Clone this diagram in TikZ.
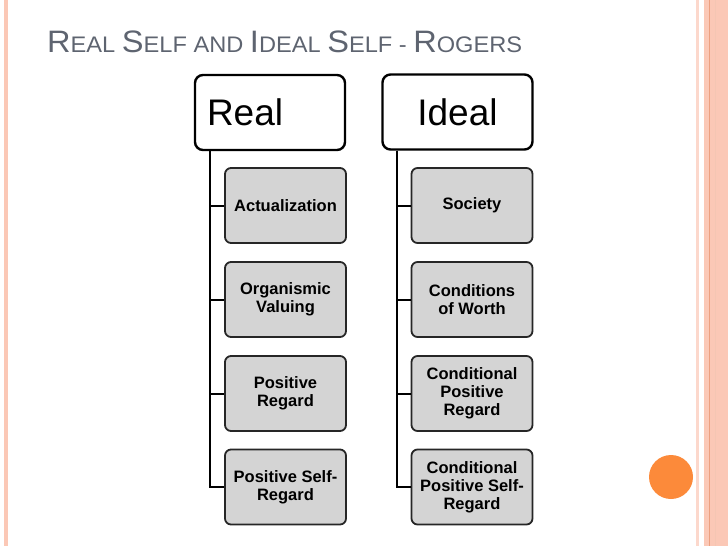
\documentclass[tikz,border=0pt]{standalone}
\usepackage{fontspec}
\setmainfont{Liberation Sans}
\usetikzlibrary{positioning}

\definecolor{titlegrey}{RGB}{94,100,112}
\definecolor{itemgrey}{RGB}{212,212,212}
\definecolor{stripe}{RGB}{251,200,182}
\definecolor{stripedark}{RGB}{236,160,128}
\definecolor{dotorange}{RGB}{252,138,58}

% title letters: big initial, smaller caps after
\newcommand\capword[2]{{\fontsize{31}{32}\selectfont #1}#2}

\begin{document}
\begin{tikzpicture}[x=1pt, y=-1pt,
  header/.style={rectangle, draw, fill=white, rounded corners=8pt, line width=2.4pt, minimum width=150pt, minimum height=75pt, inner xsep=12pt, font=\fontsize{37}{40}\selectfont},
  item/.style={rectangle, draw=black!85, fill=itemgrey, rounded corners=6pt, line width=1.8pt, minimum width=121pt, minimum height=75pt, inner sep=2pt, align=center, font=\fontsize{16.5}{18}\selectfont\bfseries},
  tree/.style={line width=2pt}
]
  \useasboundingbox (0,0) rectangle (728,546);

  % slide frame
  \fill[stripe] (4,0) rectangle (8,546);
  \fill[stripe!70] (696,0) rectangle (699,546);
  \fill[stripe] (704,0) rectangle (728,546);
  \fill[stripedark] (709,0) rectangle (710,546);
  \fill[stripedark!60] (715,0) rectangle (716,546);
  \fill[dotorange] (671,477) circle (22);

  \node[anchor=base west, text=titlegrey, inner sep=0pt, font=\fontsize{22.5}{24}\selectfont] (title) at (47,52)
    {\scalebox{1.05}[1]{\capword{R}{EAL} \capword{S}{ELF} AND \capword{I}{DEAL} \capword{S}{ELF} - \capword{R}{OGERS}}};

  \node[header, text width=126pt, align=left] (real) at (270,112.5) {Real};
  \node[header, text width=126pt, align=center] (ideal) at (457.5,112) {Ideal};

  \node[item] (act) at (285.5,205.5) {Actualization};
  \node[item] (org) at (285.5,299.5) {Organismic\\Valuing};
  \node[item] (pos) at (285.5,393.5) {Positive\\Regard};
  \node[item] (psr) at (285.5,487) {Positive Self-\\Regard};

  \node[item] (soc) at (472,205.5) {Society};
  \node[item] (cow) at (472,299.5) {Conditions\\of Worth};
  \node[item] (cpr) at (472,393.5) {Conditional\\Positive\\Regard};
  \node[item] (cpsr) at (472,487) {Conditional\\Positive Self-\\Regard};

  \foreach \c in {act,org,pos,psr}
    \draw[tree] ([xshift=16pt]real.south west) |- (\c.west);
  \foreach \c in {soc,cow,cpr,cpsr}
    \draw[tree] ([xshift=16pt]ideal.south west) |- (\c.west);
\end{tikzpicture}
\end{document}
